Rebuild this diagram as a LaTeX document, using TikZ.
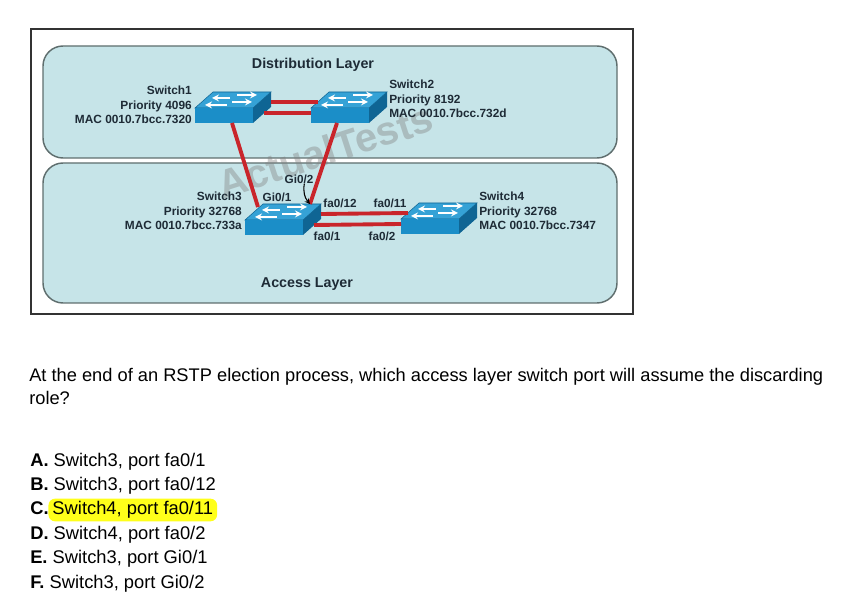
\documentclass[tikz,border=0pt]{standalone}
\usepackage{fontspec}
\setmainfont{Liberation Sans}
\usetikzlibrary{positioning}

\definecolor{panelfill}{HTML}{C6E4E8}
\definecolor{paneledge}{HTML}{5F6E6E}
\definecolor{swtop}{HTML}{35A2D6}
\definecolor{swfront}{HTML}{1B8EC8}
\definecolor{swside}{HTML}{0F6594}
\definecolor{linkred}{HTML}{C9252B}
\definecolor{labelink}{HTML}{1E2B36}
\definecolor{hiliteyellow}{HTML}{FFFF1A}

\tikzset{
  switchicon/.pic = {
    \path[fill=swtop, draw=swside, thin] (0,0) -- (58,0) -- (76,-16) -- (18,-16) -- cycle;
    \path[fill=swfront] (0,0) rectangle (58,15);
    \path[fill=swside] (58,0) -- (76,-16) -- (76,-1) -- (58,15) -- cycle;
    \draw[swarrow] (35,-10) -- (17,-10);
    \draw[swarrow] (42,-13) -- (62,-13);
    \draw[swarrow] (32,-3) -- (10,-3);
    \draw[swarrow] (37,-6) -- (57,-6);
    \coordinate (-ru) at (76,-6);
    \coordinate (-rl) at (69,5);
    \coordinate (-lu) at (7,-6);
    \coordinate (-ll) at (0,5);
    \coordinate (-dl) at (37,15);
    \coordinate (-dr) at (26,15);
    \coordinate (-gia) at (13,-13);
    \coordinate (-gib) at (65,-16);
  },
  swarrow/.style = {-stealth, white, line width=1.3pt},
  redlink/.style = {draw=linkred, line width=2.9pt},
  panel/.style = {draw=paneledge, line width=1.1pt, fill=panelfill, rounded corners=15pt},
  swlabel/.style = {font=\fontsize{8.9}{10.9}\selectfont\bfseries, text=labelink, inner sep=0pt},
  portlabel/.style = {font=\fontsize{8.8}{10}\selectfont\bfseries, text=labelink, inner sep=0pt},
  layerlabel/.style = {font=\fontsize{10.7}{12}\selectfont\bfseries, text=labelink, inner sep=0pt},
  question/.style = {font=\fontsize{13.7}{16}\selectfont, anchor=west, inner sep=0pt, text height=10pt, text depth=3pt},
  answer/.style = {font=\fontsize{13.75}{16}\selectfont, anchor=west, inner sep=0pt, text height=10pt, text depth=3pt},
}

\begin{document}
\begin{tikzpicture}[x=0.75pt, y=-0.75pt]
    \useasboundingbox (0,0) rectangle (850,605);
    % frame and the two layers
    \draw[line width=1.5pt, draw=black!80] (31,29) rectangle (633,314);
    \path[panel] (43,46) rectangle (617,158);
    \path[panel] (43,163) rectangle (617,303);
    \node[rotate=18, font=\fontsize{30}{30}\selectfont\bfseries, text=gray, opacity=0.4] (mark) at (325,151) {ActualTests};
    % switches
    \pic (sw1) at (195,108) {switchicon};
    \pic (sw2) at (311,108) {switchicon};
    \pic (sw3) at (245,220) {switchicon};
    \pic (sw4) at (401,219) {switchicon};
    % links
    \draw[redlink] (sw1-ru) -- (sw2-lu);
    \draw[redlink] (sw1-rl) -- (sw2-ll);
    \draw[redlink] (sw1-dl) -- (sw3-gia);
    \draw[redlink] (sw2-dr) -- (sw3-gib);
    \draw[redlink] (sw3-ru) -- (sw4-lu);
    \draw[redlink] (sw3-rl) -- (sw4-ll);
    % switch labels
    \node[swlabel, align=right, anchor=east] (lab1) at (192,105) {Switch1\\Priority 4096\\MAC 0010.7bcc.7320};
    \node[swlabel, align=left, anchor=west] (lab2) at (389,99) {Switch2\\Priority 8192\\MAC 0010.7bcc.732d};
    \node[swlabel, align=right, anchor=east] (lab3) at (242,211) {Switch3\\Priority 32768\\MAC 0010.7bcc.733a};
    \node[swlabel, align=left, anchor=west] (lab4) at (479,211) {Switch4\\Priority 32768\\MAC 0010.7bcc.7347};
    % ports
    \node[portlabel] (gi02) at (299,179) {Gi0/2};
    \node[portlabel] (gi01) at (277,197) {Gi0/1};
    \node[portlabel] (fa12) at (340,203) {fa0/12};
    \node[portlabel] (fa11) at (390,203) {fa0/11};
    \node[portlabel] (fa01) at (327,236) {fa0/1};
    \node[portlabel] (fa02) at (382,236) {fa0/2};
    \draw[->, >=stealth, line width=0.8pt] ([xshift=4pt]gi02.south) to[bend right=25] (sw3-gib);
    % layer names
    \node[layerlabel] (dist) at (313,65) {Distribution Layer};
    \node[layerlabel] (acc) at (307,284) {Access Layer};
    % question
    \node[question] (q1) at (29,377) {At the end of an RSTP election process, which access layer switch port will assume the discarding};
    \node[question] (q2) at (29,400) {role?};
    \node[answer] (ansa) at (30,462) {\textbf{A.} Switch3, port fa0/1};
    \node[answer] (ansb) at (30,486) {\textbf{B.} Switch3, port fa0/12};
    \node[answer] (ansc) at (30,510) {\textbf{C.}};
    \node[answer, fill=hiliteyellow, rounded corners=5pt, inner xsep=3pt, inner ysep=2pt, right=-0.5pt of ansc] (anscw) {Switch4, port fa0/11};
    \node[answer] (ansd) at (30,535) {\textbf{D.} Switch4, port fa0/2};
    \node[answer] (anse) at (30,559) {\textbf{E.} Switch3, port Gi0/1};
    \node[answer] (ansf) at (30,584) {\textbf{F.} Switch3, port Gi0/2};
\end{tikzpicture}
\end{document}
